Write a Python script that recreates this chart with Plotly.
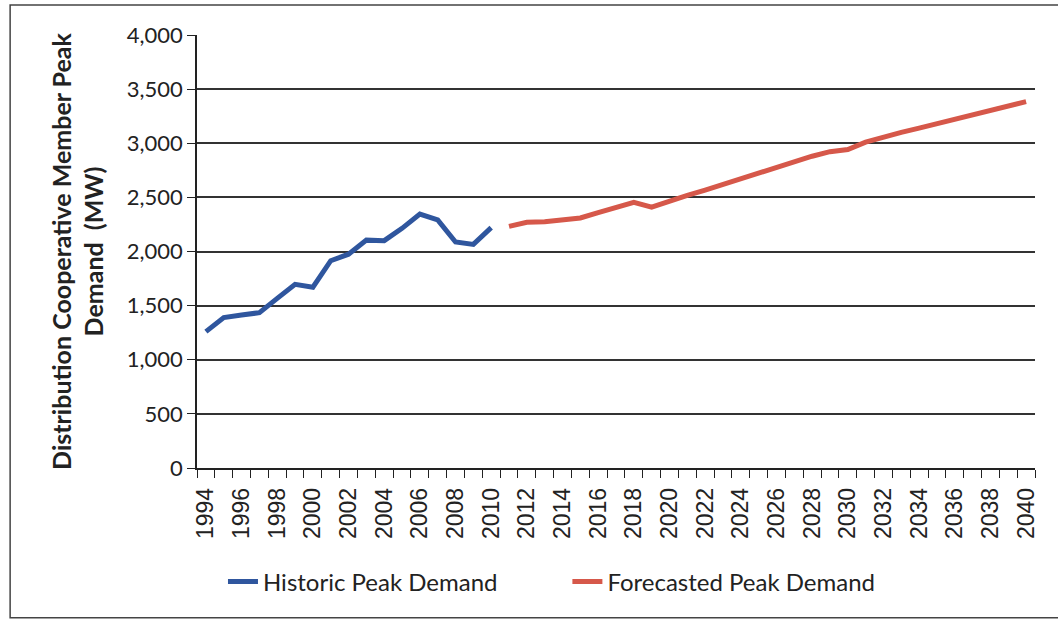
import plotly.graph_objects as go

hist_years = list(range(1994, 2011))
hist_values = [1260, 1390, 1413, 1435, 1567, 1697, 1670, 1915, 1975, 2105, 2100,
               2214, 2346, 2291, 2088, 2066, 2220]

fc_years = list(range(2011, 2041))
fc_values = [2232, 2270, 2275, 2295, 2310, 2360, 2405, 2454, 2410, 2470,
             2518, 2567, 2620, 2672, 2724, 2776, 2828, 2880, 2922, 2942,
             3010, 3060, 3100, 3140, 3180, 3220, 3262, 3302, 3342, 3385]

tick_years = list(range(1994, 2041, 2))
y_ticks = [0, 500, 1000, 1500, 2000, 2500, 3000, 3500, 4000]

FONT = "Lato"

fig = go.Figure()
fig.add_trace(go.Scatter(x=hist_years, y=hist_values, mode="lines",
                         name="Historic Peak Demand", legend="legend",
                         line=dict(color="#2F569E", width=5)))
fig.add_trace(go.Scatter(x=fc_years, y=fc_values, mode="lines",
                         name="Forecasted Peak Demand", legend="legend2",
                         line=dict(color="#D6584A", width=5)))

legend_common = dict(orientation="h", y=-0.263, yanchor="middle", xanchor="left",
                     font=dict(family=FONT, size=24, color="#222"),
                     bgcolor="rgba(0,0,0,0)")

fig.update_layout(
    width=1058, height=620,
    margin=dict(l=197, r=23, t=35, b=152),
    paper_bgcolor="white", plot_bgcolor="white",
    font=dict(family=FONT, color="#222"),
    showlegend=True,
    legend=dict(x=0.031, **legend_common),
    legend2=dict(x=0.442, **legend_common),
    shapes=[dict(type="rect", xref="paper", yref="paper",
                 x0=-0.223, x1=1.05, y0=-0.346, y1=1.069,
                 line=dict(color="#444", width=1.5))],
)

fig.update_xaxes(
    range=[1993.5, 2040.5],
    tickmode="array", tickvals=tick_years, ticktext=[str(y) for y in tick_years],
    tickangle=-90, ticks="outside", ticklen=9, tickcolor="rgba(0,0,0,0)",
    showgrid=False, zeroline=False,
    showline=True, linecolor="#222", linewidth=1.5,
    tickfont=dict(family="Liberation Sans", size=23, color="#222"),
    minor=dict(ticks="outside", ticklen=8, tick0=1993.5, dtick=1,
               tickcolor="#222", tickwidth=1.2, showgrid=False),
)
fig.update_yaxes(
    range=[0, 4000], tickmode="array", tickvals=y_ticks, tickformat=",",
    ticks="outside", ticklen=8, tickcolor="#222",
    showgrid=True, gridcolor="#333", gridwidth=1.6,
    showline=True, linecolor="#222", linewidth=1.5, zeroline=False,
    tickfont=dict(family=FONT, size=22, color="#222"),
    title=dict(text="Distribution Cooperative Member Peak<br>Demand  (MW)",
               font=dict(family=FONT, size=25, color="#222", weight="bold"),
               standoff=16),
)

fig.write_html("out.html", config={"displayModeBar": False},
               post_script="document.body.style.margin='0';document.body.style.padding='0';")
